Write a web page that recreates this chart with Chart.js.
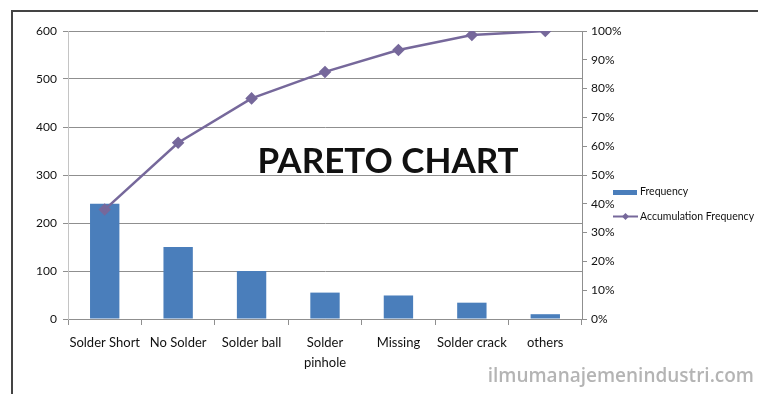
<!DOCTYPE html>
<html>
<head>
<meta charset="utf-8">
<script src="https://cdn.jsdelivr.net/npm/chart.js@4/dist/chart.umd.min.js"></script>
<style>
  html, body { margin: 0; padding: 0; background: #fff; }
  #wrap { width: 758px; height: 394px; }
</style>
</head>
<body>
<div id="wrap"><canvas id="paretoChart" width="758" height="394"></canvas></div>
<script>
const categories = ['Solder Short', 'No Solder', 'Solder ball', ['Solder', 'pinhole'], 'Missing', 'Solder crack', 'others'];
const frequency = [240, 150, 100, 55, 49, 34, 10];
const accumulation = [38, 61.2, 76.6, 85.8, 93.4, 98.6, 100];
const seriesNames = ['Frequency', 'Accumulation Frequency'];

const barColor = '#4a7ebb';
const lineColor = '#76689b';
const gridColor = '#8f8f8f';
const font = 'Lato, "Open Sans", sans-serif';

// frame, big title, watermark and the Excel-style legend
const decorations = {
    id: 'decorations',
    beforeDraw(chart) {
        const c = chart.ctx;
        c.save();
        c.fillStyle = '#fff';
        c.fillRect(0, 0, chart.width, chart.height);
        c.strokeStyle = '#444';
        c.lineWidth = 2;
        c.beginPath();
        c.moveTo(12, 394);
        c.lineTo(12, 11);
        c.lineTo(758, 11);
        c.stroke();
        c.restore();
    },
    afterDraw(chart) {
        const c = chart.ctx;
        c.save();
        c.fillStyle = '#111';
        c.font = 'bold 35px ' + font;
        c.textAlign = 'center';
        c.textBaseline = 'middle';
        c.fillText('PARETO CHART', 388, 162);

        c.fillStyle = '#b4b4b4';
        c.font = '600 19px "Open Sans", sans-serif';
        c.textAlign = 'right';
        c.fillText('ilmumanajemenindustri.com', 754, 377);

        // legend
        const lx = 613;
        c.fillStyle = barColor;
        c.fillRect(lx, 190, 24, 5);
        c.strokeStyle = lineColor;
        c.lineWidth = 2;
        c.beginPath();
        c.moveTo(lx, 216.5);
        c.lineTo(lx + 25, 216.5);
        c.stroke();
        c.fillStyle = lineColor;
        c.beginPath();
        c.moveTo(lx + 12.5, 213);
        c.lineTo(lx + 16, 216.5);
        c.lineTo(lx + 12.5, 220);
        c.lineTo(lx + 9, 216.5);
        c.closePath();
        c.fill();
        c.fillStyle = '#111';
        c.font = '10.5px ' + font;
        c.textAlign = 'left';
        c.fillText(seriesNames[0], lx + 27, 192);
        c.fillText(seriesNames[1], lx + 27, 216.5);
        c.restore();
    }
};

const ctx = document.getElementById('paretoChart').getContext('2d');
const paretoChart = new Chart(ctx, {
    data: {
        labels: categories,
        datasets: [{
            type: 'line',
            label: seriesNames[1],
            data: accumulation,
            yAxisID: 'y1',
            borderColor: lineColor,
            backgroundColor: lineColor,
            borderWidth: 2.5,
            pointStyle: 'rectRot',
            pointRadius: 4.5,
            tension: 0,
            order: 0
        }, {
            type: 'bar',
            label: seriesNames[0],
            data: frequency,
            yAxisID: 'y',
            backgroundColor: barColor,
            barPercentage: 0.4,
            categoryPercentage: 1,
            order: 1
        }]
    },
    options: {
        responsive: false,
        animation: false,
        layout: {
            padding: { top: 31, left: 0, right: 121, bottom: 15 }
        },
        plugins: {
            legend: { display: false },
            tooltip: { enabled: false }
        },
        scales: {
            x: {
                grid: {
                    offset: true,
                    drawOnChartArea: false,
                    drawTicks: true,
                    tickLength: 6,
                    color: gridColor
                },
                border: { color: gridColor },
                ticks: {
                    color: '#111',
                    maxRotation: 0,
                    autoSkip: false,
                    padding: 8,
                    font: { family: font, size: 13, lineHeight: 1.55 }
                },
                afterFit(scale) { scale.height = 60; }
            },
            y: {
                position: 'left',
                min: 0,
                max: 600,
                ticks: {
                    stepSize: 100,
                    color: '#111',
                    padding: 6,
                    font: { family: font, size: 12 }
                },
                grid: { color: gridColor, tickLength: 5 },
                border: { color: '#c4c4c4' },
                afterFit(scale) { scale.width = 68; }
            },
            y1: {
                position: 'right',
                min: 0,
                max: 100,
                ticks: {
                    stepSize: 10,
                    color: '#111',
                    padding: 4,
                    font: { family: font, size: 12 },
                    callback: v => v + '%'
                },
                grid: { drawOnChartArea: false, color: gridColor, tickLength: 5 },
                border: { color: gridColor },
                afterFit(scale) { scale.width = 55; }
            }
        }
    },
    plugins: [decorations]
});
</script>
</body>
</html>
